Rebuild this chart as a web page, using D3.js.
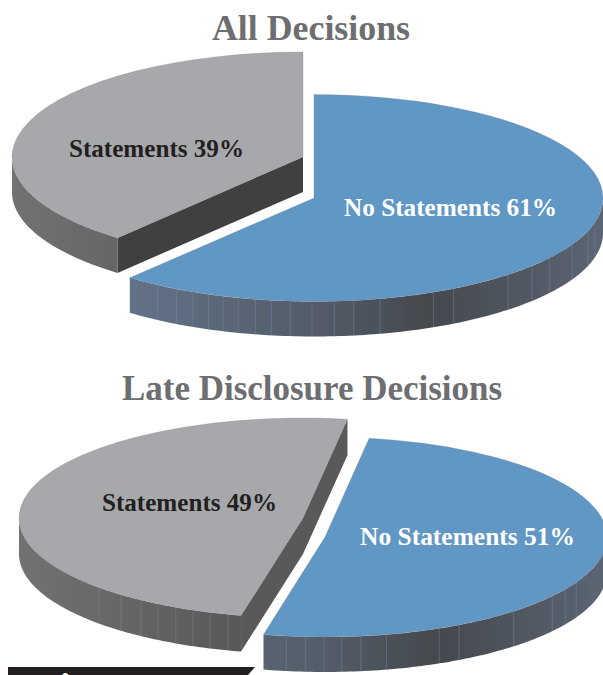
<!DOCTYPE html>
<html><head><meta charset="utf-8">
<script src="https://cdn.jsdelivr.net/npm/d3@7"></script>
<style>html,body{margin:0;padding:0;background:#fff}svg{display:block}text{font-family:"Liberation Serif",serif;font-weight:700}</style>
</head><body><svg id="c" width="603" height="675"></svg>
<script>
const chartTitles = ["All Decisions", "Late Disclosure Decisions"];
const categories = ["No Statements", "Statements"];
const allValues = [61, 39];
const lateValues = [51, 49];
const allBlueFacets = [212.8,208.4,204.9,201.4,198.3,195.2,191.7,188.5,184.7,180.4,176,172.1,166.8,155.6,151.1,137.8,131,125.5,116.7,108.5,103.5];
const lateBlueFacets = [187.9,184,180.2,176.6,172.7,167.4,156.1,151.6,138,126.3,121.6,117];
const lateGreyFacets = [225.9,219.9,214.8,210.7,206.6,202.8,199.1,195.3];
const footerText = "Figure 1.4";

const svg = d3.select("#c");
const W = 603, H = 675, rad = Math.PI/180;
const defs = svg.append("defs");
defs.append("clipPath").attr("id","frame").append("rect").attr("width",W).attr("height",H);
const root = svg.append("g").attr("clip-path","url(#frame)");

const pieGen = d3.pie().sort(null);
const blueTop = "#6197c5", greyTop = "#a7a8ab";
const blueWall = d3.scaleLinear().domain([-0.65,0,0.4,1]).range(["#627389","#535c68","#45484d","#5b6574"]).clamp(true);
const greyWall = d3.scaleLinear().domain([-1,-0.25]).range(["#727275","#58595b"]).clamp(true);

function project(s,a){ return [s.cx + s.rx*Math.sin(a), s.cy - s.ry*Math.cos(a)]; }
let gid = 0;

function drawSlice(arc, s){
  const g = root.append("g");
  const from = Math.max(arc.startAngle, Math.PI/2), to = Math.min(arc.endAngle, 1.5*Math.PI);
  const line = d3.line();
  const down = p=>[p[0],p[1]+s.depth];
  // straight cut walls facing the viewer
  if (s.cutColor){
    const apex=[s.cx,s.cy], a=project(s,arc.startAngle), b=project(s,arc.endAngle);
    [[a,apex],[apex,b]].forEach(([p,q])=>{
      g.append("path").attr("d",line([p,q,down(q),down(p)])+"Z").attr("fill",s.cutColor);
    });
  }
  // curved outer wall with a horizontal shade
  const id = "wall"+(gid++);
  const grad = defs.append("linearGradient").attr("id",id).attr("gradientUnits","userSpaceOnUse")
    .attr("x1",s.cx-s.rx).attr("x2",s.cx+s.rx).attr("y1",0).attr("y2",0);
  d3.range(-1,1.001,0.05).forEach(t=>{
    grad.append("stop").attr("offset",(t+1)/2).attr("stop-color",s.wall(t));
  });
  const rim = d3.range(from,to,1*rad).concat([to]).map(a=>project(s,a));
  g.append("path").attr("d",line(rim.concat(rim.slice().reverse().map(down)))+"Z").attr("fill",`url(#${id})`);
  (s.facets||[]).forEach(d=>{
    const p=project(s,d*rad);
    g.append("line").attr("x1",p[0]).attr("x2",p[0]).attr("y1",p[1]).attr("y2",p[1]+s.depth)
     .attr("stroke",s.facetColor).attr("stroke-width",0.7).attr("stroke-opacity",0.7);
  });
  // top surface
  const arcGen = d3.arc().innerRadius(0).outerRadius(s.rx);
  g.append("path").attr("d",arcGen(arc))
   .attr("transform",`translate(${s.cx},${s.cy}) scale(1,${s.ry/s.rx})`)
   .attr("fill",s.color).attr("stroke","#77787b").attr("stroke-width",0.5).attr("stroke-opacity",0.7);
}

function label(txt,x,y,len,size,fill){
  root.append("text").attr("x",x).attr("y",y).attr("font-size",size).attr("fill",fill)
   .attr("textLength",len).attr("lengthAdjust","spacingAndGlyphs").text(txt);
}

// top pie
const allArcs = pieGen(allValues);
drawSlice(allArcs[1],{cx:303,cy:157,rx:291,ry:105,depth:35,color:greyTop,wall:greyWall,cutColor:"#404040"});
drawSlice(allArcs[0],{cx:314,cy:198,rx:289,ry:103.5,depth:35,color:blueTop,wall:blueWall,facets:allBlueFacets,facetColor:"#75899f"});

// bottom pie
const rot = 9*rad;
const lateArcs = pieGen.startAngle(rot).endAngle(rot+2*Math.PI)(lateValues);
drawSlice(lateArcs[1],{cx:303,cy:518,rx:284,ry:100,depth:36,color:greyTop,wall:greyWall,cutColor:"#58595b",facets:lateGreyFacets,facetColor:"#808285"});
drawSlice(lateArcs[0],{cx:325,cy:537,rx:282,ry:100,depth:35,color:blueTop,wall:blueWall,facets:lateBlueFacets,facetColor:"#75899f"});

// titles and labels
const titleColor="#6d6e71", dark="#231f20";
label(chartTitles[0],212,40,198,35,titleColor);
label(chartTitles[1],122,400,380,35,titleColor);
label(`${categories[1]} ${allValues[1]}%`,69,157,175,26,dark);
label(`${categories[0]} ${allValues[0]}%`,344,216,213,26,"#fff");
label(`${categories[1]} ${lateValues[1]}%`,102,511,175,26,dark);
label(`${categories[0]} ${lateValues[0]}%`,360,545,215,26,"#fff");

// footer bar, cut off by the frame as in the reference
const bar = d3.path();
bar.moveTo(8,667); bar.lineTo(255,667); bar.lineTo(248,675); bar.lineTo(8,675); bar.closePath();
root.append("path").attr("d",bar.toString()).attr("fill",dark);
root.append("text").attr("x",33).attr("y",700.5).attr("font-size",40).attr("fill","#fff")
  .attr("textLength",185).attr("lengthAdjust","spacingAndGlyphs").text(footerText);
</script></body></html>
